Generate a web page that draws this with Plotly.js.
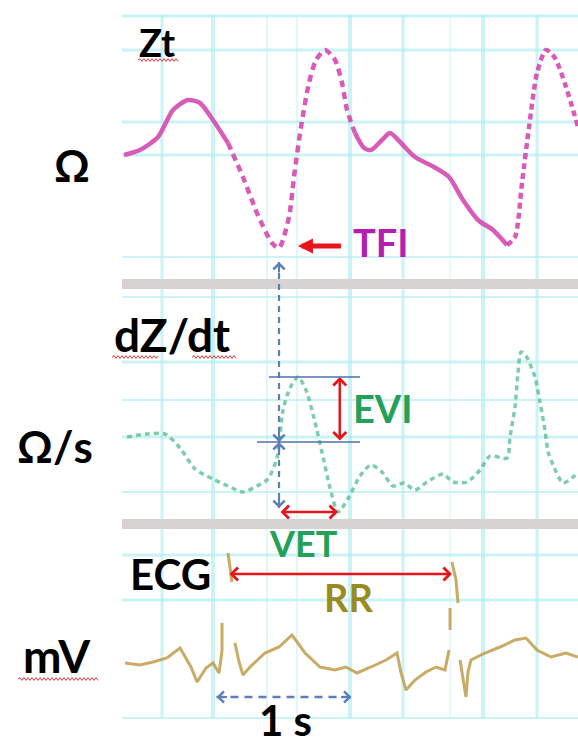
<!DOCTYPE html>
<html><head><meta charset="utf-8">
<script src="https://cdn.plot.ly/plotly-3.0.1.min.js"></script>
<style>html,body{margin:0;padding:0;background:#fff;}#chart{width:578px;height:748px;}</style>
</head><body><div id="chart"></div>
<script>
// ---------------- DATA ----------------
// Thoracic impedance Zt (arbitrary Ω units), time in seconds
const ztTime = [0.015,0.133,0.267,0.378,0.489,0.578,0.674,0.785,0.896,1.0,1.111,1.163,1.237,1.274,1.326,1.385,1.437,1.504,1.578,1.630,1.667,1.726,1.793,1.844,1.926,1.985,2.067,2.170,2.311,2.422,2.526,2.637,2.748,2.852,2.911,2.963,3.015,3.074,3.141,3.207,3.289,3.378];
const ztOhm  = [1.25,1.30,1.43,1.70,1.80,1.77,1.60,1.37,1.03,0.67,0.37,0.32,0.63,1.03,1.53,1.97,2.20,2.30,2.20,1.97,1.70,1.47,1.32,1.30,1.40,1.47,1.37,1.23,1.13,1.03,0.80,0.60,0.50,0.35,0.43,0.97,1.53,2.07,2.30,2.22,1.93,1.53];
// First derivative dZ/dt (Ω/s)
const dzdtTime  = [0.037,0.185,0.319,0.430,0.541,0.674,0.785,0.896,1.0,1.081,1.148,1.193,1.244,1.304,1.363,1.422,1.481,1.541,1.6,1.681,1.763,1.844,1.926,2.007,2.089,2.170,2.259,2.378,2.452,2.556,2.652,2.726,2.852,2.874,2.911,2.933,2.956,2.993,3.059,3.096,3.133,3.156,3.193,3.267,3.341,3.378];
const dzdtValue = [0.83,0.86,0.86,0.72,0.51,0.41,0.34,0.28,0.34,0.41,0.62,1.10,1.32,1.43,1.30,1.02,0.68,0.32,0.08,0.23,0.44,0.55,0.48,0.34,0.37,0.30,0.38,0.46,0.38,0.38,0.50,0.64,0.62,0.83,1.13,1.47,1.68,1.64,1.43,1.18,0.90,0.68,0.55,0.37,0.43,0.48];
// ECG (mV), null = gap in the recorded trace
const ecgTime = [0.022,0.133,0.230,0.333,0.430,0.511,0.556,0.622,0.674,0.719,0.741,0.741,0.763,0.785,0.815,0.826,0.837,0.867,0.896,0.948,1.059,1.163,1.259,1.356,1.467,1.578,1.659,1.741,1.844,1.956,2.037,2.067,2.104,2.170,2.252,2.326,2.393,2.422,2.426,2.430,2.430,2.437,2.444,2.474,2.489,2.496,2.504,2.526,2.548,2.563,2.585,2.689,2.800,2.911,2.993,3.074,3.178,3.289,3.378];
const ecgMv   = [0.57,0.55,0.58,0.62,0.72,0.53,0.38,0.52,0.57,0.47,0.70,0.97,null,1.67,1.38,null,0.77,0.58,0.45,0.53,0.67,0.73,0.85,0.67,0.53,0.50,0.53,0.47,0.53,0.60,0.67,0.47,0.30,0.40,0.48,0.53,0.50,0.70,null,0.90,1.12,null,1.58,1.40,1.17,null,0.60,0.40,0.23,0.48,0.60,0.67,0.73,0.80,0.82,0.70,0.63,0.67,0.63];
const scaleBarSeconds = 1;

// ---------------- GEOMETRY HELPERS ----------------
const W = 578, H = 748;
const M = {l: 122, r: 0, t: 15, b: 28};
const PW = W - M.l - M.r, PH = H - M.t - M.b;
const px = x => (x - M.l) / PW;          // page px -> paper x
const py = y => (H - M.b - y) / PH;       // page px -> paper y
const AX = {
  y3: {dom: [py(280), 1], rng: [0, 2.65]},
  y2: {dom: [py(520), py(288)], rng: [0, 2.32]},
  y:  {dom: [0, py(529)], rng: [0, 1.91]}
};
const toPaper = (ax, v) => { const a = AX[ax]; return a.dom[0] + (v - a.rng[0]) / (a.rng[1] - a.rng[0]) * (a.dom[1] - a.dom[0]); };

// ---------------- DERIVED MEASURES ----------------
function argExt(t, v, t0, t1, useMax) {
  let best = -1;
  for (let i = 0; i < t.length; i++) {
    if (v[i] == null || t[i] < t0 || t[i] > t1) continue;
    if (best < 0 || (useMax ? v[i] > v[best] : v[i] < v[best])) best = i;
  }
  return best;
}
function interp(t, v, x) {
  for (let i = 0; i < t.length - 1; i++) if (x >= t[i] && x <= t[i+1]) return v[i] + (v[i+1]-v[i]) * (x - t[i]) / (t[i+1]-t[i]);
  return v[0];
}
const iTFI = argExt(ztTime, ztOhm, 0.8, 1.6, false);
const tTFI = ztTime[iTFI], zTFI = ztOhm[iTFI];
const iEVI = argExt(dzdtTime, dzdtValue, tTFI, tTFI + 0.4, true);
const eviTop = dzdtValue[iEVI];
const eviBase = interp(dzdtTime, dzdtValue, tTFI);
const iVET = argExt(dzdtTime, dzdtValue, tTFI, tTFI + 0.6, false);
const tVET = dzdtTime[iVET], vVET = dzdtValue[iVET];
const iR1 = argExt(ecgTime, ecgMv, 0.5, 1.0, true);
const iR2 = argExt(ecgTime, ecgMv, 2.2, 2.7, true);
const tR1 = ecgTime[iR1], tR2 = ecgTime[iR2];

// ---------------- TRACES ----------------
const traces = [];
const zSegs = [[0, 7, 'solid'], [7, 21, '7px,5px'], [21, 33, 'solid'], [33, 41, '6px,4px']];
zSegs.forEach(([a, b, d]) => traces.push({
  x: ztTime.slice(a, b + 1), y: ztOhm.slice(a, b + 1), xaxis: 'x', yaxis: 'y3', mode: 'lines',
  line: {color: 'rgba(212,68,174,0.88)', width: 4.5, dash: d, shape: 'spline', smoothing: 0.7},
  hoverinfo: 'skip', showlegend: false
}));
traces.push({
  x: dzdtTime, y: dzdtValue, xaxis: 'x', yaxis: 'y2', mode: 'lines',
  line: {color: 'rgba(70,182,135,0.7)', width: 3.5, dash: '5px,4px', shape: 'spline', smoothing: 0.7},
  hoverinfo: 'skip', showlegend: false
});
traces.push({
  x: ecgTime, y: ecgMv, xaxis: 'x', yaxis: 'y', mode: 'lines', connectgaps: false,
  line: {color: 'rgba(186,150,62,0.8)', width: 3},
  hoverinfo: 'skip', showlegend: false
});

// ---------------- SHAPES ----------------
const shapes = [];
const gridC = 'rgba(175,236,240,0.65)', gridF = 'rgba(200,243,246,0.55)';
[[162,3,gridC],[213,4,gridC],[267,2,gridF],[297,2,gridF],[350,4,gridC],[403,3,gridC],[450,1.5,gridF],[483,4,gridC],[537,3,gridC]]
  .forEach(([x, w, c]) => shapes.push({type: 'line', xref: 'paper', yref: 'paper', x0: px(x), x1: px(x), y0: py(718), y1: py(15), line: {color: c, width: w}, layer: 'below'}));
[[16,3],[50,3],[122,3],[155,3],[257,2],[297,2],[362,3],[400,2],[437,3],[492,2],[555,3],[600,3],[718,2]]
  .forEach(([y, w]) => shapes.push({type: 'line', xref: 'paper', yref: 'paper', x0: 0, x1: 1, y0: py(y), y1: py(y), line: {color: gridC, width: w}, layer: 'below'}));
// gray separator bars
[[279, 289], [519, 529]].forEach(([a, b]) => shapes.push({type: 'rect', xref: 'paper', yref: 'paper', x0: 0, x1: 1, y0: py(b), y1: py(a), fillcolor: '#d7d3d2', line: {width: 0}, layer: 'below'}));
// blue dashed vertical marker from TFI
const blue = '#5b80b8';
shapes.push({type: 'line', xref: 'x', yref: 'paper', x0: tTFI, x1: tTFI, y0: toPaper('y3', zTFI - 0.14), y1: toPaper('y2', vVET + 0.04), line: {color: blue, width: 2.2, dash: '6px,5px'}});
// EVI reference lines
shapes.push({type: 'line', xref: 'x', yref: 'y2', x0: tTFI - 0.074, x1: tTFI + 0.6, y0: eviTop, y1: eviTop, line: {color: '#4d73a8', width: 1.3}});
shapes.push({type: 'line', xref: 'x', yref: 'y2', x0: tTFI - 0.163, x1: tTFI + 0.6, y0: eviBase, y1: eviBase, line: {color: '#4d73a8', width: 1.3}});
// 1 s scale bar
const sb0 = 0.70, sbY = 0.23;
shapes.push({type: 'line', xref: 'x', yref: 'y', x0: sb0, x1: sb0 + scaleBarSeconds, y0: sbY, y1: sbY, line: {color: blue, width: 2.5, dash: '8px,6px'}});
// red spell-check squiggles
function squiggle(x0, x1, y) {
  let d = `M${px(x0)},${py(y)}`, up = true;
  for (let x = x0 + 2; x <= x1; x += 2) { d += ` L${px(x)},${py(y + (up ? -1.4 : 1.4))}`; up = !up; }
  return d;
}
[[138, 178, 60], [112, 158, 357], [192, 236, 357], [18, 98, 679]].forEach(([a, b, y]) =>
  shapes.push({type: 'path', xref: 'paper', yref: 'paper', path: squiggle(a, b, y), line: {color: '#e03a3a', width: 1}}));

// ---------------- ANNOTATIONS ----------------
const FONT = 'Lato, "Open Sans", "DejaVu Sans", sans-serif';
const ann = [];
function label(text, x, y, size, color) {
  ann.push({text: '<b>' + text + '</b>', xref: 'paper', yref: 'paper', x: px(x), y: py(y), xanchor: 'center', yanchor: 'middle', showarrow: false, font: {family: FONT, size: size, color: color || '#000'}});
}
label('Zt', 157, 42, 38);
label('Ω', 72, 165, 44);
label('dZ/dt', 172, 334, 46);
label('Ω/s', 55, 446, 44);
label('ECG', 170, 574, 42);
label('mV', 57, 655, 46);
label('1 s', 285, 720, 42);
label('TFI', 381, 242, 38, '#b31fae');
label('EVI', 383, 408, 38, '#23a158');
label('VET', 303, 543, 36, '#23a158');
label('RR', 348, 597, 38, '#9a8a22');

const red = '#e8141a';
// TFI arrow (thick, pointing left to the Zt minimum)
ann.push({text: '', xref: 'x', yref: 'y3', axref: 'x', ayref: 'y3', x: tTFI + 0.14, y: zTFI + 0.02, ax: tTFI + 0.47, ay: zTFI + 0.02,
  showarrow: true, arrowhead: 2, arrowsize: 0.6, arrowwidth: 5, arrowcolor: red});
function dbl(x, y, axv, ayv, yref) {
  ann.push({text: '', xref: 'x', yref: yref, axref: 'x', ayref: yref, x: x, y: y, ax: axv, ay: ayv, showarrow: true,
    arrowside: 'end+start', arrowhead: 4, startarrowhead: 4, arrowsize: 1, startarrowsize: 1, arrowwidth: 2.5, arrowcolor: red});
}
dbl(tTFI + 0.45, eviTop, tTFI + 0.45, eviBase, 'y2');   // EVI
dbl(tVET, vVET, tTFI, vVET, 'y2');                      // VET
dbl(tR2, 1.46, tR1, 1.46, 'y');                         // RR
function head(x, y, yref, axp, ayp) {
  ann.push({text: '', xref: 'x', yref: yref, x: x, y: y, ax: axp, ay: ayp, showarrow: true, arrowhead: 4, arrowsize: 1.1, arrowwidth: 2, arrowcolor: blue});
}
head(tTFI, zTFI - 0.14, 'y3', 0, 12);
head(tTFI, eviBase, 'y2', 0, -12);
head(tTFI, eviBase, 'y2', 0, 12);
head(tTFI, vVET + 0.04, 'y2', 0, -12);
head(sb0, sbY, 'y', 12, 0);
head(sb0 + scaleBarSeconds, sbY, 'y', -12, 0);

// ---------------- LAYOUT ----------------
const hidden = {visible: false, fixedrange: true};
const layout = {
  width: W, height: H, margin: M, paper_bgcolor: '#fff', plot_bgcolor: '#fff', showlegend: false,
  font: {family: FONT},
  xaxis: Object.assign({domain: [0, 1], range: [0, PW / 135]}, hidden),
  yaxis: Object.assign({domain: AX.y.dom, range: AX.y.rng, anchor: 'x'}, hidden),
  yaxis2: Object.assign({domain: AX.y2.dom, range: AX.y2.rng, anchor: 'x'}, hidden),
  yaxis3: Object.assign({domain: AX.y3.dom, range: AX.y3.rng, anchor: 'x'}, hidden),
  shapes: shapes, annotations: ann
};
Plotly.newPlot('chart', traces, layout, {staticPlot: true, displayModeBar: false});
</script></body></html>
